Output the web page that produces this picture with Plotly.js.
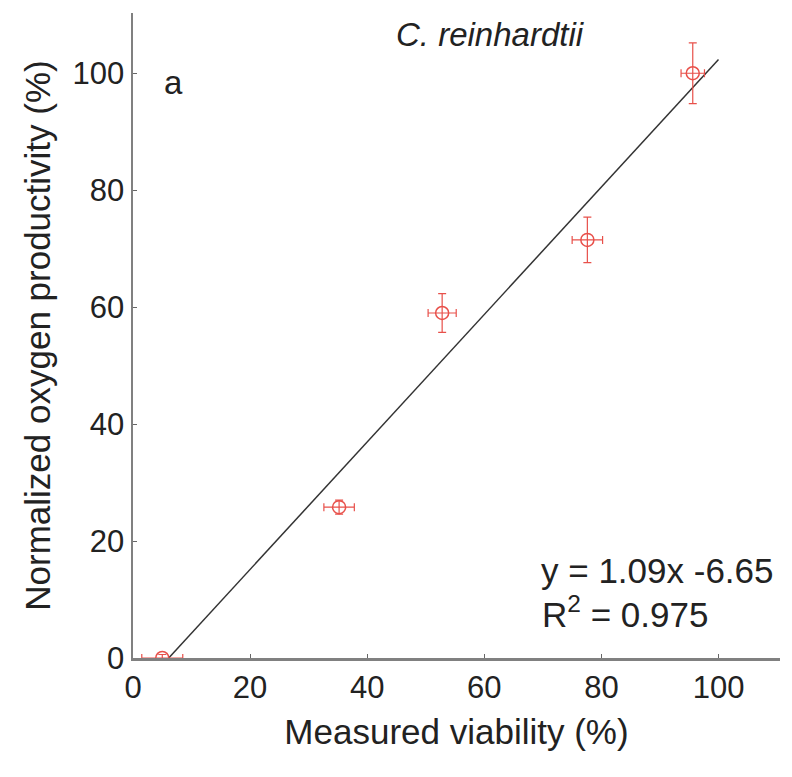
<!DOCTYPE html>
<html><head><meta charset="utf-8">
<script src="https://cdn.plot.ly/plotly-3.0.1.min.js"></script>
<style>body{margin:0;background:#fff}#plot{width:792px;height:777px}</style>
</head><body><div id="plot"></div>
<script>
var viability = [5.0, 35.2, 52.8, 77.6, 95.6];
var viabilityErr = [3.5, 2.6, 2.4, 2.6, 2.0];
var oxygen = [0.0, 25.8, 59.0, 71.5, 100.0];
var oxygenErr = [0.6, 1.2, 3.3, 3.9, 5.2];
var fitSlope = 1.09, fitIntercept = -6.65;
var fitX = [-fitIntercept / fitSlope, 100];
var fitY = fitX.map(function(x){ return fitSlope * x + fitIntercept; });
var xTicks = [0, 20, 40, 60, 80, 100];
var yTicks = [0, 20, 40, 60, 80, 100];

var font = 'Liberation Sans, Arial, sans-serif';
var red = '#e8504a';
var traces = [
  {x: fitX, y: fitY, mode: 'lines', line: {color: '#333', width: 1.5}, hoverinfo: 'skip'},
  {x: viability, y: oxygen, mode: 'markers',
   marker: {symbol: 'circle-open', size: 13, color: red, line: {width: 1.5, color: red}},
   error_x: {type: 'data', array: viabilityErr, color: red, thickness: 1.2, width: 4},
   error_y: {type: 'data', array: oxygenErr, color: red, thickness: 1.2, width: 4}}
];
var layout = {
  width: 792, height: 777, showlegend: false,
  paper_bgcolor: '#fff', plot_bgcolor: '#fff',
  margin: {l: 133, r: 12, t: 13, b: 119},
  font: {family: font, size: 31, color: '#222'},
  xaxis: {range: [0, 110.5], tickvals: xTicks, ticks: 'inside', ticklen: 4, tickcolor: '#666',
          showgrid: false, zeroline: false, showline: true, linecolor: '#808080', linewidth: 2.5,
          title: {text: 'Measured viability (%)', font: {size: 35}, standoff: 16},
          tickfont: {size: 31}},
  yaxis: {range: [0, 110.3], tickvals: yTicks, ticks: 'inside', ticklen: 4, tickcolor: '#666',
          showgrid: false, zeroline: false, showline: true, linecolor: '#808080', linewidth: 2.5,
          title: {text: 'Normalized oxygen productivity (%)', font: {size: 35}, standoff: 12},
          tickfont: {size: 31}},
  annotations: [
    {x: 61, y: 106.7, xref: 'x', yref: 'y', text: '<i>C. reinhardtii</i>', showarrow: false, font: {size: 33}},
    {x: 7.0, y: 98.5, xref: 'x', yref: 'y', text: 'a', showarrow: false, font: {size: 33}},
    {x: 69.3, y: 15.0, xref: 'x', yref: 'y', xanchor: 'left', text: 'y = 1.09x -6.65', showarrow: false, font: {size: 35}},
    {x: 69.5, y: 7.9, xref: 'x', yref: 'y', xanchor: 'left', text: 'R<sup>2</sup> = 0.975', showarrow: false, font: {size: 35}}
  ]
};
Plotly.newPlot('plot', traces, layout, {displayModeBar: false, staticPlot: true});
</script></body></html>
